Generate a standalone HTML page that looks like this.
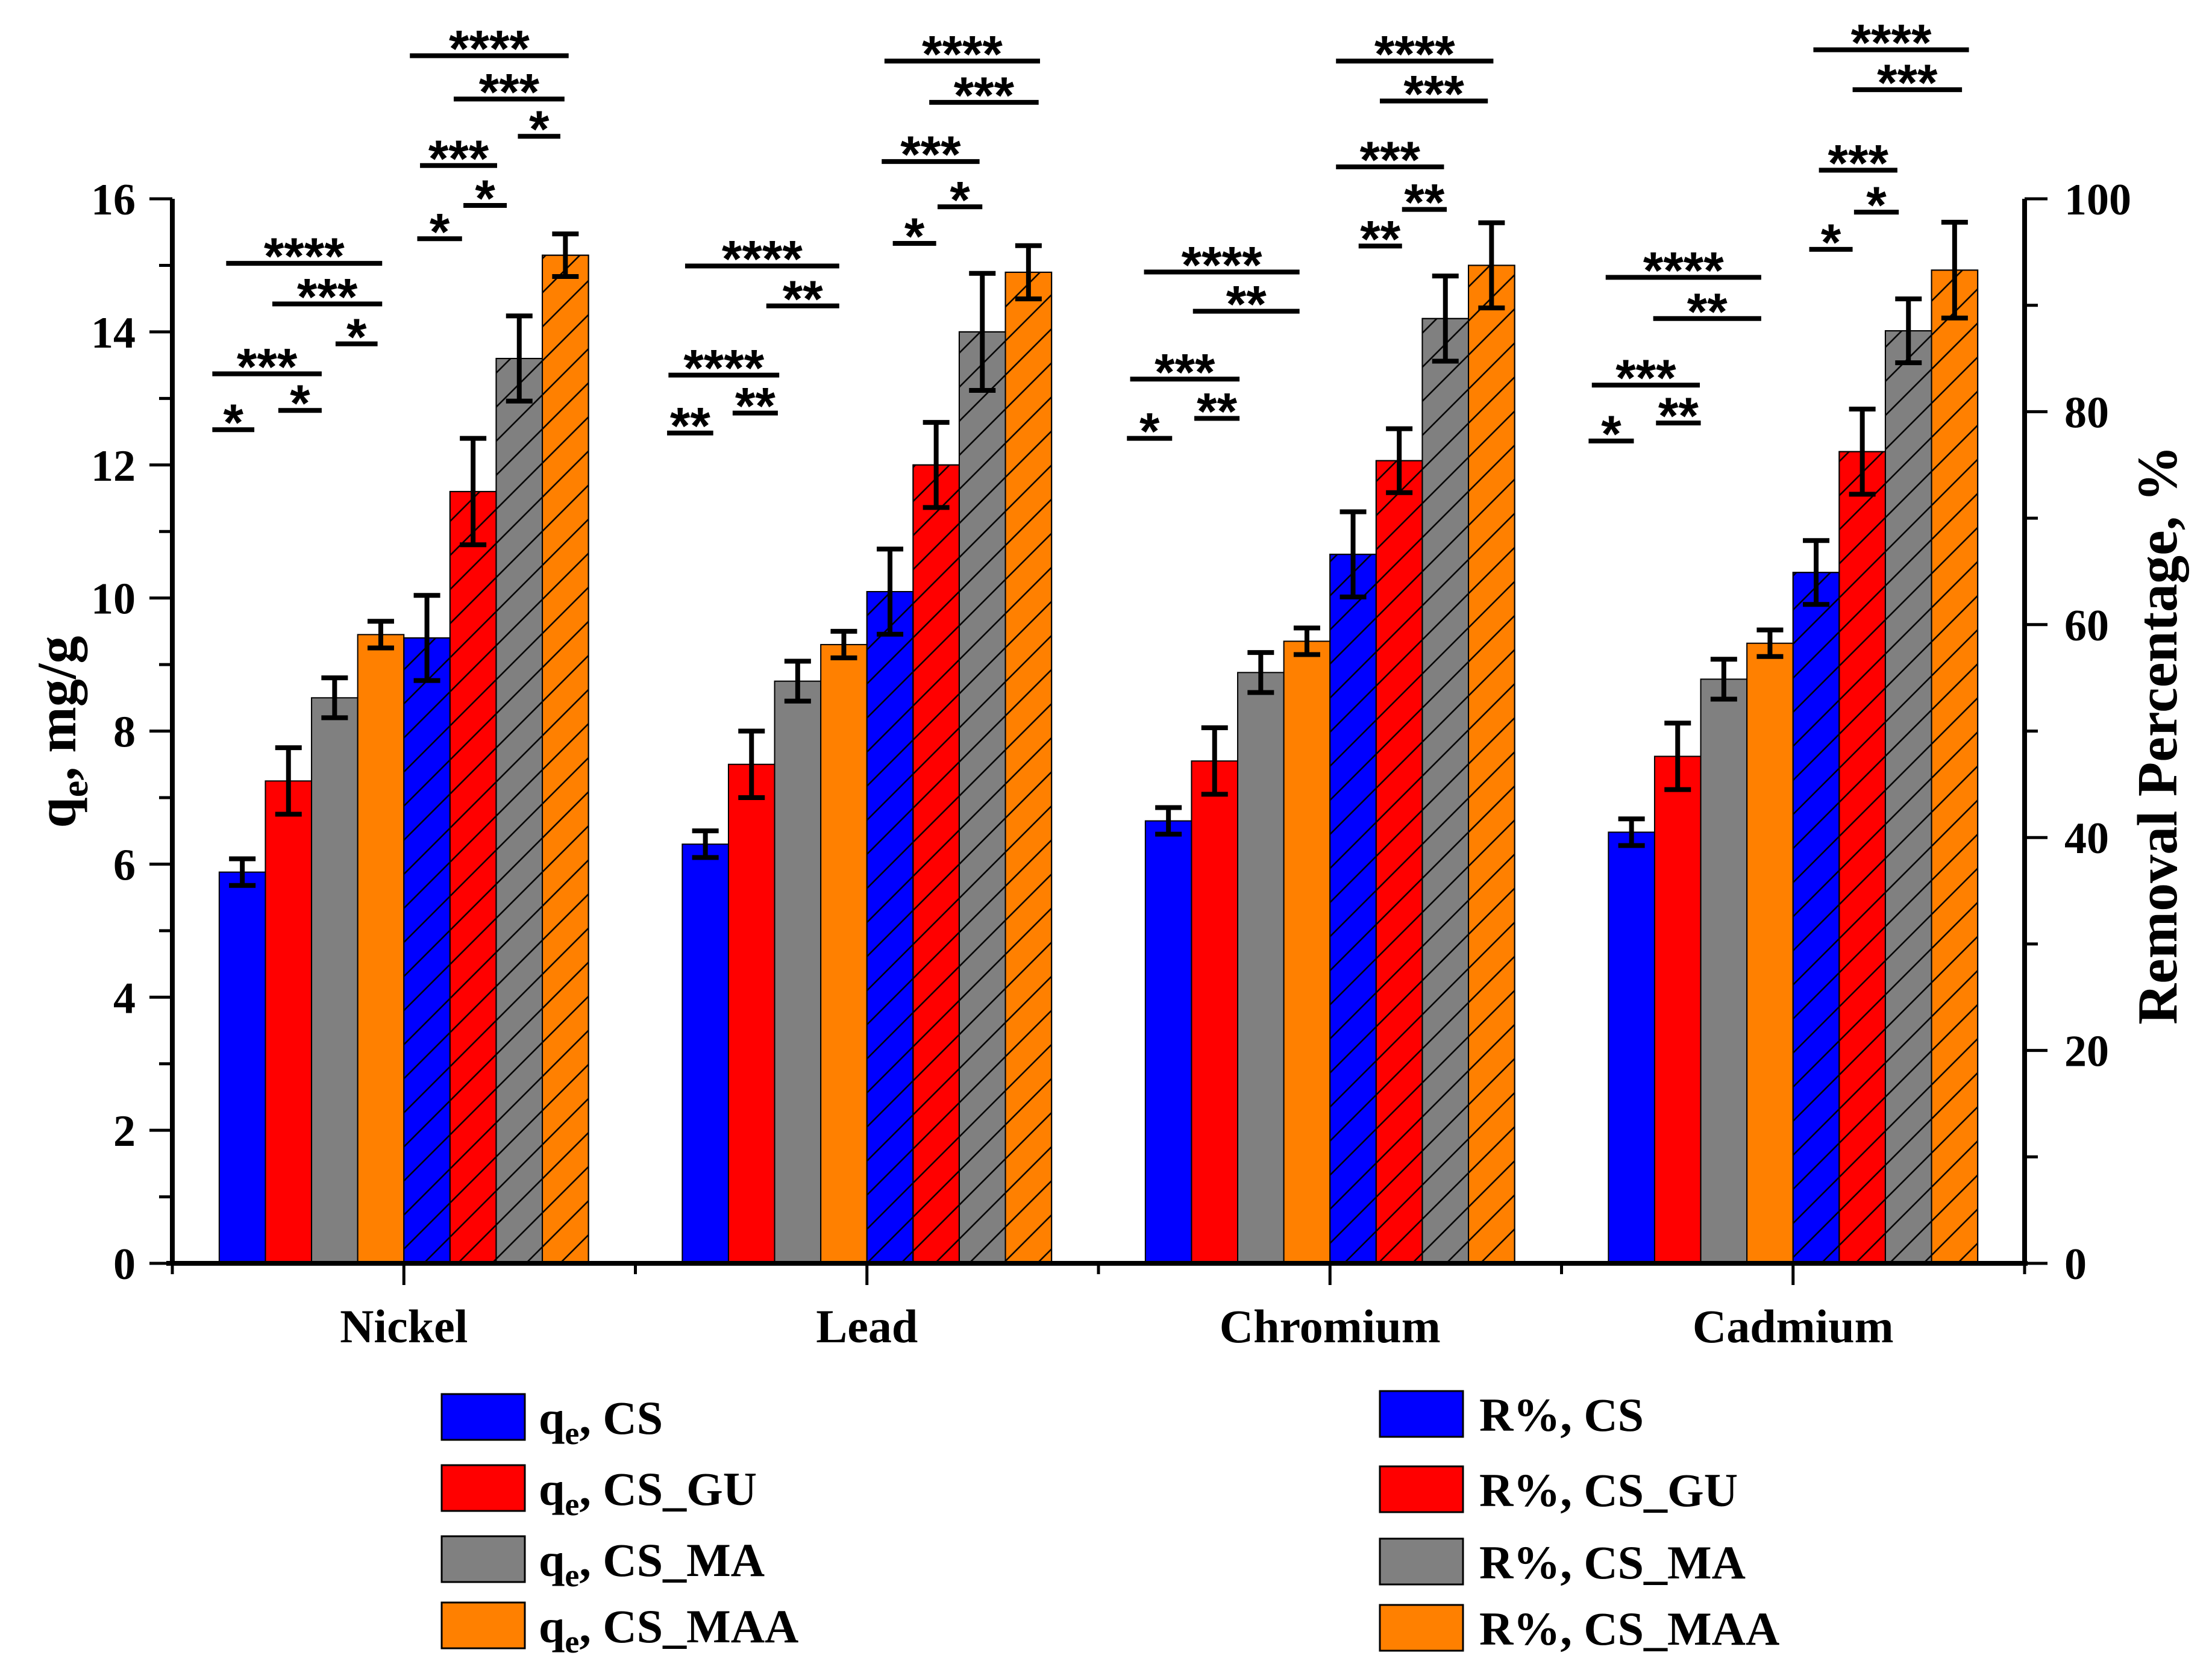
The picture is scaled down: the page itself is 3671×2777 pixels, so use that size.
<!DOCTYPE html>
<html><head><meta charset="utf-8"><style>
html,body{margin:0;padding:0;background:#fff;}
svg{display:block;font-family:"Liberation Serif",serif;font-weight:bold;}
</style></head><body>
<svg id="chart" width="3671" height="2777" viewBox="0 0 3671 2777" xmlns="http://www.w3.org/2000/svg">
<defs>
<pattern id="hatch" patternUnits="userSpaceOnUse" width="40" height="40" patternTransform="rotate(-45)">
<line x1="0" y1="20" x2="40" y2="20" stroke="#000" stroke-width="2.5"/>
</pattern>
</defs>
<g id="bars"></g>
<g id="axes"></g>
<g id="sig"></g>
<g id="legend"></g>
</svg>
<script>
const categories = ["Nickel","Lead","Chromium","Cadmium"];
const seriesNames = ["CS","CS_GU","CS_MA","CS_MAA"];
const colors = ["#0000ff","#ff0000","#808080","#ff8000"];
const qeCS = [5.88,6.30,6.65,6.48];
const qeCSGU = [7.25,7.50,7.55,7.62];
const qeCSMA = [8.50,8.75,8.88,8.78];
const qeCSMAA = [9.45,9.30,9.35,9.32];
const qeErrCS = [0.2,0.2,0.2,0.2];
const qeErrCSGU = [0.5,0.5,0.5,0.5];
const qeErrCSMA = [0.3,0.3,0.3,0.3];
const qeErrCSMAA = [0.2,0.2,0.2,0.2];
const rCS = [58.75,63.1,66.6,64.9];
const rCSGU = [72.5,75.0,75.4,76.25];
const rCSMA = [85.0,87.5,88.75,87.6];
const rCSMAA = [94.7,93.1,93.75,93.3];
const rErrCS = [4,4,4,3];
const rErrCSGU = [5,4,3,4];
const rErrCSMA = [4,5.5,4,3];
const rErrCSMAA = [2,2.5,4,4.5];
const leftTicks = [0,2,4,6,8,10,12,14,16];
const rightTicks = [0,20,40,60,80,100];
// significance brackets: group index, start/end (bar slot units), y (left-axis units), label
const sigGroup = [0,0,0,0,0,0,0,0,0,0,0,0, 1,1,1,1,1,1,1,1,1,1, 2,2,2,2,2,2,2,2,2,2, 3,3,3,3,3,3,3,3,3,3];
const sigX1 = [-0.15,-0.15,1.28,0.15,1.15,2.52,4.29,4.35,5.29,4.13,5.08,6.47, -0.33,-0.3,1.09,0.06,1.82,4.56,4.32,5.53,4.38,5.35, -0.4,-0.33,1.06,-0.03,1.03,4.62,4.13,5.56,4.13,5.08, -0.43,-0.36,1.03,-0.06,0.97,4.35,4.56,5.32,4.44,5.29];
const sigX2 = [0.76,2.22,2.22,3.53,3.53,3.43,5.26,6.02,6.23,7.57,7.48,7.39, 0.67,2.1,2.07,3.4,3.4,5.5,6.44,6.5,7.75,7.72, 0.58,2.04,2.04,3.34,3.34,5.56,6.47,6.53,7.54,7.42, 0.55,1.98,2.0,3.31,3.31,5.29,6.26,6.29,7.81,7.66];
const sigY = [12.53,13.37,12.82,15.03,14.42,13.82,15.4,16.5,15.9,18.15,17.5,16.94, 12.48,13.35,12.78,14.99,14.39,15.33,16.56,15.88,18.07,17.45, 12.4,13.29,12.7,14.9,14.31,15.29,16.48,15.84,18.07,17.47, 12.36,13.2,12.63,14.82,14.2,15.24,16.43,15.8,18.24,17.64];
const sigLabel = ["*","***","*","****","***","*","*","***","*","****","***","*", "**","****","**","****","**","*","***","*","****","***", "*","***","**","****","**","**","***","**","****","***", "*","***","**","****","**","*","***","*","****","***"];

const NS="http://www.w3.org/2000/svg";
const X0=286, X1=3360, Y0=2097, Y16=330;
const band=(X1-X0)/categories.length;
const slot=76.6;
const yL=v=>Y0-(v/16)*(Y0-Y16);
const yR=v=>Y0-(v/100)*(Y0-Y16);
const groupStart=i=>X0+band*i+band/2-4*slot;
function mk(tag,attrs,parent){const e=document.createElementNS(NS,tag);for(const k in attrs)e.setAttribute(k,attrs[k]);parent.appendChild(e);return e;}
const gB=document.getElementById('bars'),gA=document.getElementById('axes'),gS=document.getElementById('sig'),gL=document.getElementById('legend');
const qe=[qeCS,qeCSGU,qeCSMA,qeCSMAA], qeE=[qeErrCS,qeErrCSGU,qeErrCSMA,qeErrCSMAA];
const rr=[rCS,rCSGU,rCSMA,rCSMAA], rE=[rErrCS,rErrCSGU,rErrCSMA,rErrCSMAA];
function errbar(x,yt,yb){
 const g=mk('g',{},gB);
 
 
 mk('line',{x1:x,x2:x,y1:yt,y2:yb,stroke:'#000','stroke-width':8},g);
 mk('line',{x1:x-22,x2:x+22,y1:yt,y2:yt,stroke:'#000','stroke-width':8},g);
 mk('line',{x1:x-22,x2:x+22,y1:yb,y2:yb,stroke:'#000','stroke-width':8},g);
}
categories.forEach((c,i)=>{
 const gs=groupStart(i);
 for(let s=0;s<4;s++){
  const x=gs+s*slot, v=qe[s][i], y=yL(v);
  const r=mk('rect',{x:x,y:y,width:slot,height:Y0-y,fill:colors[s],stroke:'#000','stroke-width':2},gB);
  
  
  errbar(x+slot/2,yL(v+qeE[s][i]),yL(v-qeE[s][i]));
 }
 for(let s=0;s<4;s++){
  const x=gs+(s+4)*slot, v=rr[s][i], y=yR(v);
  const r=mk('rect',{x:x,y:y,width:slot,height:Y0-y,fill:colors[s],stroke:'#000','stroke-width':2},gB);
  
  
  const h=mk('rect',{x:x,y:y,width:slot,height:Y0-y,fill:'url(#hatch)',stroke:'#000','stroke-width':2},gB);
  
  
  errbar(x+slot/2,yR(v+rE[s][i]),yR(v-rE[s][i]));
 }
 const cx=X0+band*i+band/2;
 const t=mk('text',{x:cx,y:2228,'font-size':78,'text-anchor':'middle'},gA);
 t.textContent=c;
 
 
 mk('line',{x1:cx,x2:cx,y1:Y0,y2:2133,stroke:'#000','stroke-width':5},gA);
});
for(let i=0;i<=categories.length;i++){const x=X0+band*i;mk('line',{x1:x,x2:x,y1:Y0,y2:2115,stroke:'#000','stroke-width':5},gA);}
const xa=mk('line',{x1:X0-10,x2:X1+5,y1:Y0,y2:Y0,stroke:'#000','stroke-width':8},gA);


const la=mk('line',{x1:X0,x2:X0,y1:Y16,y2:Y0+4,stroke:'#000','stroke-width':8},gA);


const ra=mk('line',{x1:X1,x2:X1,y1:Y16,y2:Y0+4,stroke:'#000','stroke-width':8},gA);


for(let v=0;v<=16;v++){const y=yL(v);const major=v%2===0;mk('line',{x1:X0-(major?38:22),x2:X0,y1:y,y2:y,stroke:'#000','stroke-width':5},gA);}
leftTicks.forEach(v=>{const t=mk('text',{x:225,y:yL(v)+26,'font-size':74,'text-anchor':'end'},gA);t.textContent=v;
 
 });
for(let v=0;v<=100;v+=10){const y=yR(v);const major=v%20===0;mk('line',{x1:X1,x2:X1+(major?38:22),y1:y,y2:y,stroke:'#000','stroke-width':5},gA);}
rightTicks.forEach(v=>{const t=mk('text',{x:3426,y:yR(v)+26,'font-size':74,'text-anchor':'start'},gA);t.textContent=v;
 
 });
const lt=mk('text',{transform:'translate(125,1215) rotate(-90)','font-size':92,'text-anchor':'middle'},gA);
lt.innerHTML='q<tspan font-size="62" dy="20">e</tspan><tspan dy="-20">, mg/g</tspan>';


const rt=mk('text',{transform:'translate(3612,1220) rotate(-90)','font-size':94,'text-anchor':'middle'},gA);
rt.textContent='Removal Percentage, %';


sigLabel.forEach((lab,k)=>{
 const gs=groupStart(sigGroup[k]);
 const x1=gs+sigX1[k]*slot, x2=gs+sigX2[k]*slot, y=yL(sigY[k]);
 const g=mk('g',{},gS);
 
 
 mk('line',{x1:x1,x2:x2,y1:y,y2:y,stroke:'#000','stroke-width':8},g);
 const t=mk('text',{x:(x1+x2)/2,y:y+18,'font-size':86,'text-anchor':'middle','font-family':'Liberation Sans, sans-serif'},g);
 t.textContent=lab;
});
const legY1=[2352,2470,2588,2698], legY2=[2347,2472,2592,2702];
for(let s=0;s<4;s++){
 const a=mk('g',{},gL);
 
 
 mk('rect',{x:733,y:legY1[s]-38,width:138,height:76,fill:colors[s],stroke:'#000','stroke-width':3},a);
 const t=mk('text',{x:894,y:legY1[s]+28,'font-size':78},a);
 t.innerHTML='q<tspan font-size="54" dy="17">e</tspan><tspan dy="-17">, '+seriesNames[s]+'</tspan>';
 const b=mk('g',{},gL);
 
 
 mk('rect',{x:2290,y:legY2[s]-38,width:138,height:76,fill:colors[s],stroke:'#000','stroke-width':3},b);
 const t2=mk('text',{x:2455,y:legY2[s]+28,'font-size':78},b);
 t2.textContent='R%, '+seriesNames[s];
}
</script>
</body></html>
